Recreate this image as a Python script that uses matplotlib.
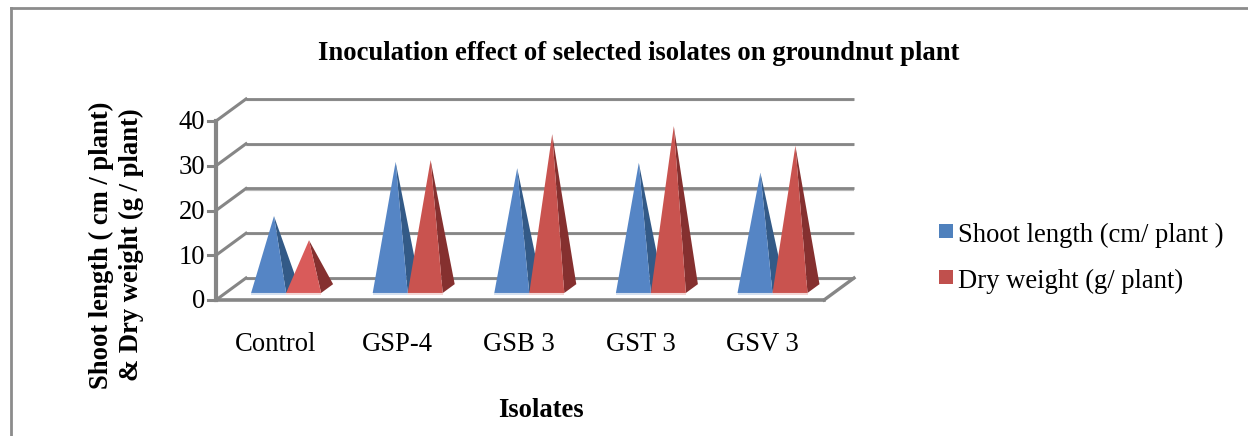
import matplotlib
matplotlib.use("Agg")
import matplotlib.pyplot as plt
from matplotlib.patches import Polygon, Rectangle

plt.rcParams['font.family'] = ['Liberation Serif', 'DejaVu Serif']

categories = ["Control", "GSP-4", "GSB 3", "GST 3", "GSV 3"]
shoot_length = [16.3, 28.4, 27.0, 28.2, 26.0]
dry_weight = [10.9, 28.8, 34.6, 36.4, 32.0]
y_ticks = [0, 10, 20, 30, 40]

W, H = 1248, 436
fig = plt.figure(figsize=(W / 100, H / 100), dpi=100)

# whole figure in pixels, for frame and labels
bg = fig.add_axes([0, 0, 1, 1])
bg.set_xlim(0, W)
bg.set_ylim(H, 0)
bg.axis("off")

# front plane of the chart: x in categories, y in values
left, right, bottom, top = 216, 824, 300, 121
ax = fig.add_axes([left / W, 1 - bottom / H, (right - left) / W, (bottom - top) / H])
ax.set_xlim(0, len(categories))
ax.set_ylim(0, 40)
ax.axis("off")

# oblique depth of the box, in data units
px_x = len(categories) / (right - left)
px_y = 40 / (bottom - top)
depth_x = 30 * px_x
depth_y = 22 * px_y


def proj(x, y, d):
    # d = 0 front of the box, d = 1 back wall
    return (x + d * depth_x, y + d * depth_y)


grid = "#868686"
fs = 19.2
xmax = len(categories)
for v in y_ticks:
    ax.plot(*zip(proj(0, v - 0.25, 1), proj(xmax, v - 0.25, 1)), color="#b8b8b8", lw=1.6, clip_on=False,
            solid_capstyle="butt", zorder=1)
    ax.plot(*zip(proj(0, v + 0.05, 1), proj(xmax, v + 0.05, 1)), color=grid, lw=2.0, clip_on=False,
            solid_capstyle="butt", zorder=1)
    ax.plot(*zip(proj(0, v, 0), proj(0, v, 1)), color=grid, lw=2.2, clip_on=False, zorder=1)
    ax.plot([-8 * px_x, 0], [v, v], color=grid, lw=2.2, clip_on=False, zorder=2)
    ax.text(-11 * px_x, v - 0.4, str(v), ha="right", va="center", fontsize=fs, clip_on=False)

ax.plot([0, 0], [0, 40], color=grid, lw=3, clip_on=False, zorder=2)
ax.plot([0, xmax], [0, 0], color=grid, lw=2.6, clip_on=False, zorder=2)
ax.plot(*zip(proj(xmax, 0, 0), proj(xmax, 0, 1)), color=grid, lw=2.4, clip_on=False, zorder=2)


def cone(x0, v, light, dark, pale, z):
    w = 35 * px_x
    front = proj(x0, 0, 0.32)
    fr = proj(x0 + w, 0, 0.32)
    back = proj(x0 + w, 0, 0.72)
    apex = (x0 + w / 2 + 0.5 * depth_x, v + 0.5 * depth_y)
    ax.add_patch(Polygon([front, (front[0], front[1] - 2 * px_y), (fr[0], fr[1] - 2 * px_y), fr],
                         closed=True, fc=pale, ec="none", zorder=z, clip_on=False))
    ax.add_patch(Polygon([fr, back, apex], closed=True, fc=dark, ec="none", zorder=z, clip_on=False))
    ax.add_patch(Polygon([front, fr, apex], closed=True, fc=light, ec="none", zorder=z + 0.1, clip_on=False))


for i, name in enumerate(categories):
    x0 = i + 25.5 * px_x
    cone(x0, shoot_length[i], "#5585c5", "#335a87", "#d5e0ef", 3 + i)
    red = "#d95b5a" if i == 0 else "#c9534f"
    cone(x0 + 35 * px_x, dry_weight[i], red, "#85302f", "#f3d6d5", 3.5 + i)
    ax.text(i + 0.49, -9.85, name, ha="center", va="center", fontsize=fs, clip_on=False)

# frame around the chart
frame_col = "#8c8c8c"
bg.plot([10.5, 10.5], [H, 8.5], color=frame_col, lw=2)
bg.plot([10.5, W], [8.5, 8.5], color=frame_col, lw=2)

bg.text(639, 54, "Inoculation effect of selected isolates on groundnut plant", ha="center", va="center",
        fontsize=fs, fontweight="bold")
bg.text(116.5, 245, "Shoot length ( cm / plant)\n& Dry weight (g / plant)", rotation=90, ha="center", va="center",
        ma="center", fontsize=fs, fontweight="bold", linespacing=1.22)
bg.text(541, 410, "Isolates", ha="center", va="center", fontsize=fs, fontweight="bold")

# legend
bg.add_patch(Rectangle((939, 224), 14, 14, fc="#4f81bd", ec="none"))
bg.text(958, 235, "Shoot length (cm/ plant )", va="center", fontsize=fs)
bg.add_patch(Rectangle((939, 270), 14, 14, fc="#c0504d", ec="none"))
bg.text(958, 281, "Dry weight (g/ plant)", va="center", fontsize=fs)

fig.savefig("out.png", dpi=100)
